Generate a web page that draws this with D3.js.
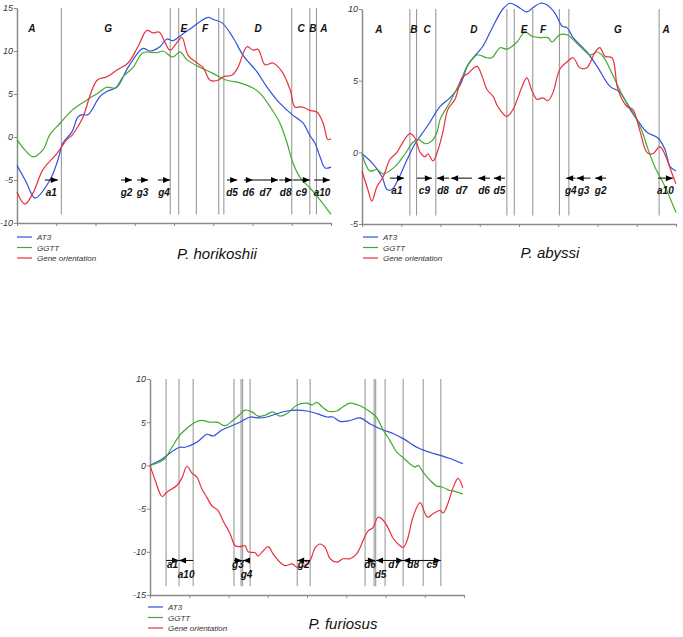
<!DOCTYPE html>
<html><head><meta charset="utf-8">
<script src="https://cdn.jsdelivr.net/npm/d3@7/dist/d3.min.js"></script>
<style>
body{margin:0;background:#fff;}
svg{display:block;font-family:"Liberation Sans",Arial,sans-serif;}
</style></head>
<body>
<svg id="chart" width="683" height="637"></svg>
<script>
// ---------------- DATA ----------------
const seriesNames = ["AT3", "GGTT", "Gene orientation"];
const seriesColors = ["#3050dd", "#44a832", "#e8303c"];
const xTickCount = 8;

// P. horikoshii
const horikoshiiAT3 = [[0,-3.3],[0.23,-5.2],[0.46,-7.1],[0.84,-5.0],[1.04,-2.7],[1.17,-0.7],[1.40,0.6],[1.55,2.3],[1.66,2.6],[1.81,2.6],[2.11,4.7],[2.29,5.3],[2.55,5.8],[2.83,8.1],[3.21,10.3],[3.39,10.0],[3.64,10.5],[3.82,11.4],[3.97,11.2],[4.20,11.9],[4.48,12.8],[4.87,13.9],[5.04,13.6],[5.22,13.3],[5.50,11.6],[5.76,9.5],[6.11,7.6],[6.37,5.8],[6.70,3.9],[7.01,2.6],[7.13,2.2],[7.29,1.6],[7.46,0.2],[7.59,-0.7],[7.72,-2.3],[7.85,-3.6],[8.0,-3.5]];
const horikoshiiGGTT = [[0,-0.3],[0.20,-1.5],[0.41,-2.3],[0.66,-1.5],[0.84,0.3],[1.10,1.6],[1.40,3.1],[1.78,4.3],[2.06,5.1],[2.29,5.8],[2.50,5.7],[2.70,7.0],[2.96,8.1],[3.21,9.8],[3.57,9.8],[3.72,10.0],[3.97,9.3],[4.15,9.9],[4.33,9.0],[4.66,8.1],[4.99,7.4],[5.35,6.6],[5.68,6.3],[6.01,5.7],[6.19,5.1],[6.45,3.5],[6.70,1.6],[6.88,-0.7],[7.03,-3.0],[7.21,-4.7],[7.46,-5.9],[7.72,-7.3],[8.0,-9.0]];
const horikoshiiGene = [[0,-6.4],[0.20,-7.8],[0.41,-6.5],[0.66,-3.8],[1.02,-1.9],[1.27,-0.3],[1.40,0.2],[1.55,1.2],[1.68,2.3],[2.04,6.6],[2.29,7.0],[2.55,7.8],[2.83,8.6],[3.08,10.5],[3.31,12.4],[3.46,12.1],[3.62,12.2],[3.77,11.0],[3.90,10.1],[4.08,11.0],[4.20,11.6],[4.36,9.5],[4.59,8.6],[4.74,8.1],[4.92,6.6],[5.12,6.6],[5.25,7.0],[5.48,7.2],[5.63,8.1],[5.86,10.5],[6.01,10.1],[6.14,10.2],[6.32,8.4],[6.52,8.6],[6.75,7.6],[6.96,5.5],[7.08,3.5],[7.26,3.5],[7.46,3.1],[7.64,2.9],[7.80,1.6],[7.92,-0.3],[8.0,-0.2]];
const horikoshiiBounds = [1.13, 3.905, 4.12, 4.57, 5.14, 5.27, 7.0, 7.46, 7.63];
const horikoshiiRegions = [["A",0.38],["G",2.32],["E",4.25],["F",4.79],["D",6.14],["C",7.24],["B",7.54],["A",7.82]];
const horikoshiiGenes = [["a1",0.71,1.04,1],["g2",2.65,2.93,1],["g3",3.06,3.34,1],["g4",3.59,3.90,1],["d5",5.35,5.61,1],["d6",5.78,6.01,1],["d7",6.01,6.65,1],["d8",6.68,7.01,1],["c9",7.03,7.46,1],["a10",7.57,7.97,1]];

// P. abyssi
const abyssiAT3 = [[0,-0.1],[0.28,-0.8],[0.51,-1.7],[0.64,-2.6],[0.76,-2.6],[0.92,-1.9],[1.15,-0.5],[1.35,0.6],[1.53,1.3],[1.73,2.1],[1.99,3.2],[2.24,3.8],[2.50,4.7],[2.70,6.1],[2.93,6.9],[3.08,7.4],[3.34,8.8],[3.59,10.0],[3.77,10.4],[3.95,10.2],[4.20,9.8],[4.36,10.1],[4.54,10.4],[4.71,10.3],[4.92,9.7],[5.10,8.8],[5.22,8.7],[5.38,8.0],[5.73,7.0],[5.99,6.0],[6.32,4.6],[6.57,4.2],[6.83,3.0],[7.08,2.0],[7.26,1.4],[7.54,1.0],[7.72,0.2],[7.85,-1.0],[8.0,-1.3]];
const abyssiGGTT = [[0,-0.1],[0.20,-1.3],[0.38,-1.2],[0.54,-1.5],[0.84,-1.0],[1.10,-0.1],[1.30,0.7],[1.43,0.9],[1.61,0.6],[1.78,0.8],[1.91,1.4],[1.99,2.3],[2.24,3.5],[2.50,4.9],[2.68,6.0],[2.93,6.8],[3.18,6.6],[3.31,6.6],[3.52,7.3],[3.69,7.2],[3.95,7.7],[4.15,8.4],[4.33,8.1],[4.54,8.0],[4.74,8.0],[4.84,7.7],[5.04,8.2],[5.22,8.2],[5.55,7.4],[5.81,6.8],[5.99,7.0],[6.14,6.7],[6.39,5.4],[6.65,3.9],[6.90,2.8],[7.13,1.5],[7.29,0.2],[7.46,-1.0],[7.72,-2.4],[8.0,-4.2]];
const abyssiGene = [[0,-1.3],[0.15,-2.6],[0.25,-3.4],[0.38,-2.4],[0.54,-1.7],[0.71,-0.5],[0.89,0],[1.04,0.7],[1.22,1.3],[1.35,1.0],[1.48,0],[1.61,-0.3],[1.68,-0.1],[1.81,-0.6],[1.94,0.2],[2.06,1.4],[2.19,3.0],[2.37,3.7],[2.55,5.2],[2.70,5.5],[2.93,6.0],[3.06,5.3],[3.18,4.4],[3.34,3.9],[3.46,3.2],[3.69,2.5],[3.85,3.0],[4.08,4.6],[4.20,5.2],[4.33,4.3],[4.46,3.7],[4.61,3.8],[4.74,3.6],[4.87,4.2],[5.04,5.8],[5.22,6.3],[5.38,6.6],[5.55,5.9],[5.73,5.9],[5.94,7.0],[6.06,7.3],[6.19,6.7],[6.37,6.6],[6.52,4.4],[6.75,3.2],[6.90,3.0],[7.08,1.5],[7.26,0],[7.41,-0.1],[7.59,0.4],[7.77,-0.5],[7.90,-1.5],[8.0,-2.2]];
const abyssiBounds = [1.22, 1.39, 1.88, 3.69, 3.88, 4.35, 5.03, 5.27, 7.57];
const abyssiRegions = [["A",0.43],["B",1.32],["C",1.66],["D",2.85],["E",4.13],["F",4.61],["G",6.52],["A",7.75]];
const abyssiGenes = [["a1",0.71,1.07,1],["c9",1.40,1.78,1],["d8",1.91,2.22,-1],["d7",2.27,2.80,-1],["d6",2.96,3.26,-1],["d5",3.36,3.64,-1],["g4",5.20,5.44,-1],["g3",5.47,5.82,-1],["g2",5.94,6.22,-1],["a10",7.54,7.92,1]];

// P. furiosus
const furiosusAT3 = [[0,0],[0.33,0.8],[0.59,1.7],[0.76,2.1],[0.89,2.1],[1.20,2.7],[1.45,3.6],[1.61,3.4],[1.83,4.1],[2.04,4.5],[2.29,5.0],[2.55,5.6],[2.73,5.5],[2.98,5.6],[3.24,6.0],[3.49,6.3],[3.75,6.4],[4.00,6.3],[4.25,6.0],[4.51,5.6],[4.66,5.6],[4.84,5.1],[5.10,5.2],[5.35,5.5],[5.61,4.8],[5.94,4.1],[6.19,3.7],[6.45,3.1],[6.80,2.1],[7.01,1.7],[7.21,1.4],[7.44,1.1],[7.64,0.8],[7.97,0.2]];
const furiosusGGTT = [[0,0],[0.25,0.4],[0.38,0.8],[0.56,2.1],[0.76,3.5],[0.97,4.4],[1.15,5.0],[1.32,5.2],[1.53,5.0],[1.71,5.0],[1.91,4.6],[2.11,5.2],[2.29,5.9],[2.42,6.4],[2.60,6.2],[2.75,5.7],[2.93,5.8],[3.13,6.2],[3.31,5.7],[3.49,6.0],[3.75,7.0],[4.00,7.2],[4.13,7.0],[4.25,7.3],[4.38,6.8],[4.53,6.3],[4.76,6.3],[4.92,6.8],[5.10,7.2],[5.35,6.9],[5.61,6.2],[5.78,5.5],[5.94,4.1],[6.11,2.9],[6.29,1.5],[6.45,0.9],[6.62,0.2],[6.75,-0.2],[6.83,0],[6.96,-0.8],[7.13,-1.7],[7.31,-2.4],[7.44,-2.5],[7.64,-2.9],[7.77,-3.0],[7.97,-3.3]];
const furiosusGene = [[0,0],[0.13,-1.7],[0.31,-3.6],[0.43,-3.1],[0.69,-2.3],[0.82,-1.4],[0.94,-0.1],[1.07,-0.9],[1.20,-1.4],[1.32,-2.7],[1.45,-3.7],[1.58,-4.7],[1.73,-5.2],[1.86,-6.4],[2.04,-7.9],[2.17,-9.3],[2.29,-9.4],[2.42,-9.3],[2.50,-10.0],[2.68,-10.1],[2.75,-10.5],[2.88,-9.9],[3.01,-9.4],[3.13,-10.2],[3.31,-11.2],[3.44,-11.6],[3.62,-11.4],[3.75,-11.8],[3.90,-11.7],[4.08,-11.0],[4.20,-9.6],[4.33,-9.1],[4.46,-9.5],[4.59,-10.8],[4.76,-11.2],[4.92,-10.8],[5.10,-10.8],[5.27,-10.2],[5.43,-8.7],[5.55,-7.6],[5.68,-7.2],[5.81,-6.0],[5.91,-6.2],[6.04,-7.0],[6.19,-8.4],[6.37,-9.3],[6.45,-9.5],[6.55,-8.7],[6.70,-6.0],[6.88,-4.3],[7.01,-5.6],[7.08,-6.0],[7.21,-5.6],[7.39,-5.2],[7.47,-5.5],[7.59,-4.4],[7.72,-2.6],[7.85,-1.5],[7.97,-2.6]];
const furiosusBounds = [0.41, 0.74, 1.10, 2.14, 2.32, 2.36, 2.55, 3.75, 4.08, 5.48, 5.71, 5.75, 5.99, 6.45, 6.96, 7.41];
const furiosusRegions = [];
const furiosusGenes = [["a1",0.41,0.74,1],["a10",0.74,1.10,-1],["g3",2.14,2.34,1],["g4",2.37,2.55,-1],["g2",3.75,4.08,-1],["d6",5.48,5.73,1],["d5",5.76,5.99,-1],["d7",5.99,6.45,1],["d8",6.45,6.96,-1],["c9",6.96,7.41,1]];

// ---------------- LAYOUT ----------------
const panels = [
  {title:"P. horikoshii", series:[horikoshiiAT3,horikoshiiGGTT,horikoshiiGene], bounds:horikoshiiBounds, regions:horikoshiiRegions, genes:horikoshiiGenes,
   yDomain:[-10,15], yTicks:[-10,-5,0,5,10,15], geneY:-5, left:17, right:331, top:8, bottom:223, labelDy:16, labelDrop:0,
   legendX:17, legendY:237, titleX:217, titleY:259},
  {title:"P. abyssi", series:[abyssiAT3,abyssiGGTT,abyssiGene], bounds:abyssiBounds, regions:abyssiRegions, genes:abyssiGenes,
   yDomain:[-5,10], yTicks:[-5,0,5,10], geneY:-1.8, left:362, right:676, top:9, bottom:224, labelDy:16, labelDrop:0,
   legendX:363, legendY:237, titleX:550, titleY:258},
  {title:"P. furiosus", series:[furiosusAT3,furiosusGGTT,furiosusGene], bounds:furiosusBounds, regions:furiosusRegions, genes:furiosusGenes,
   yDomain:[-15,10], yTicks:[-15,-10,-5,0,5,10], geneY:-11, left:150, right:464, top:379, bottom:595, labelDy:8, labelDrop:10,
   legendX:148, legendY:607, titleX:343, titleY:629}
];

const svg = d3.select("#chart");

panels.forEach(p => {
  const g = svg.append("g");
  const x = d3.scaleLinear().domain([0, xTickCount]).range([p.left, p.right]);
  const y = d3.scaleLinear().domain(p.yDomain).range([p.bottom, p.top]);
  const span = p.yDomain[1] - p.yDomain[0];

  // boundary lines
  g.selectAll("line.bound").data(p.bounds).join("line")
    .attr("x1", d => x(d)).attr("x2", d => x(d))
    .attr("y1", y(p.yDomain[1])).attr("y2", y(p.yDomain[0] + 0.04 * span))
    .attr("stroke", "#9a9a9a").attr("stroke-width", 1.1);

  // axes
  const ya = g.append("g").attr("transform", `translate(${p.left},0)`)
    .call(d3.axisLeft(y).tickValues(p.yTicks).tickSize(3).tickSizeOuter(0).tickFormat(d => String(d)));
  const xa = g.append("g").attr("transform", `translate(0,${p.bottom})`)
    .call(d3.axisBottom(x).ticks(xTickCount).tickSize(3).tickSizeOuter(0).tickFormat(""));
  [ya, xa].forEach(a => {
    a.select(".domain").attr("stroke", "#8a8a8a").attr("stroke-width", 1.5);
    a.selectAll(".tick line").attr("stroke", "#8a8a8a");
  });
  ya.selectAll(".tick text").attr("font-size", 9).attr("font-style", "italic").attr("fill", "#333").attr("x", -4);

  // curves
  const line = d3.line().x(d => x(d[0])).y(d => y(d[1])).curve(d3.curveCatmullRom.alpha(0.5));
  p.series.forEach((s, i) => {
    g.append("path").datum(s).attr("d", line).attr("fill", "none")
      .attr("stroke", seriesColors[i]).attr("stroke-width", 1.2);
  });

  // region labels
  g.selectAll("text.reg").data(p.regions).join("text")
    .attr("x", d => x(d[1])).attr("y", p.top + 24)
    .attr("text-anchor", "middle").attr("font-size", 10).attr("font-weight", "bold").attr("font-style", "italic")
    .attr("fill", "#111").text(d => d[0]);

  // gene arrows
  const gy = y(p.geneY);
  let lastCx = -1000;
  p.genes.forEach(gn => {
    const [name, s, e, dir] = gn;
    const xs = x(s), xe = x(e);
    g.append("line").attr("x1", xs).attr("x2", xe).attr("y1", gy).attr("y2", gy)
      .attr("stroke", "#000").attr("stroke-width", 1);
    const tip = dir > 0 ? xe : xs;
    const back = dir > 0 ? tip - 7 : tip + 7;
    g.append("path").attr("d", `M${tip},${gy}L${back},${gy - 3}L${back},${gy + 3}Z`).attr("fill", "#000");
    const cx = (xs + xe) / 2;
    let dy = p.labelDy;
    if (p.labelDrop && cx - lastCx < 15) { dy += p.labelDrop; } else { lastCx = cx; }
    g.append("text").attr("x", cx).attr("y", gy + dy)
      .attr("text-anchor", "middle").attr("font-size", 10).attr("font-weight", "bold").attr("font-style", "italic")
      .attr("fill", "#111").text(name);
  });

  // legend
  seriesNames.forEach((n, i) => {
    const ly = p.legendY + i * 10.5;
    g.append("line").attr("x1", p.legendX).attr("x2", p.legendX + 15).attr("y1", ly).attr("y2", ly)
      .attr("stroke", seriesColors[i]).attr("stroke-width", 1.2);
    g.append("text").attr("x", p.legendX + 20).attr("y", ly + 3).attr("font-size", 8)
      .attr("font-style", "italic").attr("fill", "#333").text(n);
  });

  // title
  g.append("text").attr("x", p.titleX).attr("y", p.titleY).attr("text-anchor", "middle")
    .attr("font-size", 15).attr("font-style", "italic").attr("fill", "#111").text(p.title);
});
</script>
</body></html>
